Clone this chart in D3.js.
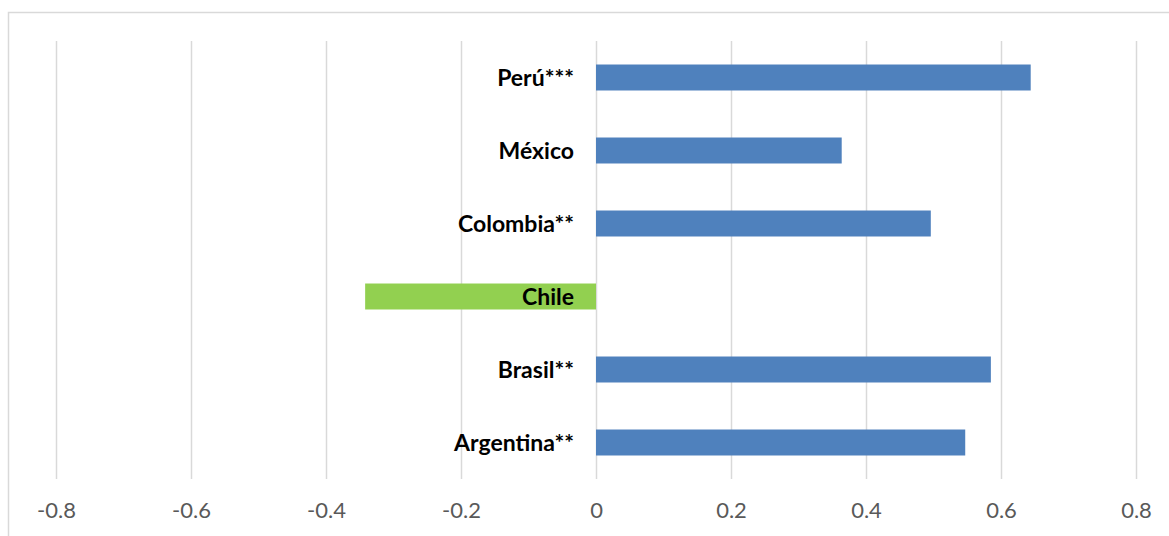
<!DOCTYPE html>
<html>
<head>
<meta charset="utf-8">
<script src="https://cdn.jsdelivr.net/npm/d3@7"></script>
<style>
  body { margin: 0; background: #fff; }
  svg { display: block; }
</style>
</head>
<body>
<div id="chart"></div>
<script>
// Countries, top to bottom
const countries = ["Perú***", "México", "Colombia**", "Chile", "Brasil**", "Argentina**"];
const values = [0.644, 0.364, 0.496, -0.342, 0.585, 0.547];
const highlight = ["Chile"];
const ticks = [-0.8, -0.6, -0.4, -0.2, 0, 0.2, 0.4, 0.6, 0.8];

const W = 1169, H = 536;
const margin = { top: 41, right: 33, bottom: 57, left: 56 };

const svg = d3.select("#chart").append("svg")
    .attr("width", W)
    .attr("height", H);

// chart frame (only top & left are visible in the picture)
svg.append("rect")
    .attr("x", 8.5).attr("y", 12.5)
    .attr("width", W + 10).attr("height", H + 10)
    .attr("fill", "none")
    .attr("stroke", "#d9d9d9")
    .attr("stroke-width", 1.5);

const x = d3.scaleLinear()
    .domain([-0.8, 0.8])
    .range([margin.left, W - margin.right]);

const y = d3.scaleBand()
    .domain(countries)
    .range([margin.top, H - margin.bottom])
    .paddingInner(0.644)
    .paddingOuter(0.322);

// gridlines
svg.append("g")
    .selectAll("line")
    .data(ticks)
    .join("line")
    .attr("x1", d => Math.round(x(d)) + 0.5)
    .attr("x2", d => Math.round(x(d)) + 0.5)
    .attr("y1", margin.top)
    .attr("y2", H - margin.bottom)
    .attr("stroke", "#d9d9d9")
    .attr("stroke-width", 1.5);

// x axis labels (plain hyphen, like the original)
const fmt = d => d === 0 ? "0" : d3.format(".1f")(d).replace("\u2212", "-");
const xAxis = svg.append("g")
    .attr("transform", `translate(0,${H - margin.bottom})`)
    .call(d3.axisBottom(x).tickValues(ticks).tickSize(0).tickPadding(23).tickFormat(fmt));
xAxis.select(".domain").remove();
xAxis.selectAll("text")
    .attr("fill", "#595959")
    .style("font-family", "Lato, 'Open Sans', sans-serif")
    .style("font-size", "22px");

// bars
svg.append("g")
    .selectAll("rect")
    .data(countries)
    .join("rect")
    .attr("x", (d, i) => x(Math.min(0, values[i])))
    .attr("y", d => y(d))
    .attr("width", (d, i) => Math.abs(x(values[i]) - x(0)))
    .attr("height", y.bandwidth())
    .attr("fill", d => highlight.includes(d) ? "#92d050" : "#4f81bd");

// category labels, right aligned next to zero line
svg.append("g")
    .selectAll("text")
    .data(countries)
    .join("text")
    .attr("x", x(0) - 22)
    .attr("y", d => y(d) + y.bandwidth() / 2)
    .attr("dy", "0.36em")
    .attr("text-anchor", "end")
    .attr("fill", "#000")
    .style("font-family", "Lato, 'Open Sans', sans-serif")
    .style("font-weight", "bold")
    .style("font-size", "23px")
    .text(d => d);
</script>
</body>
</html>
